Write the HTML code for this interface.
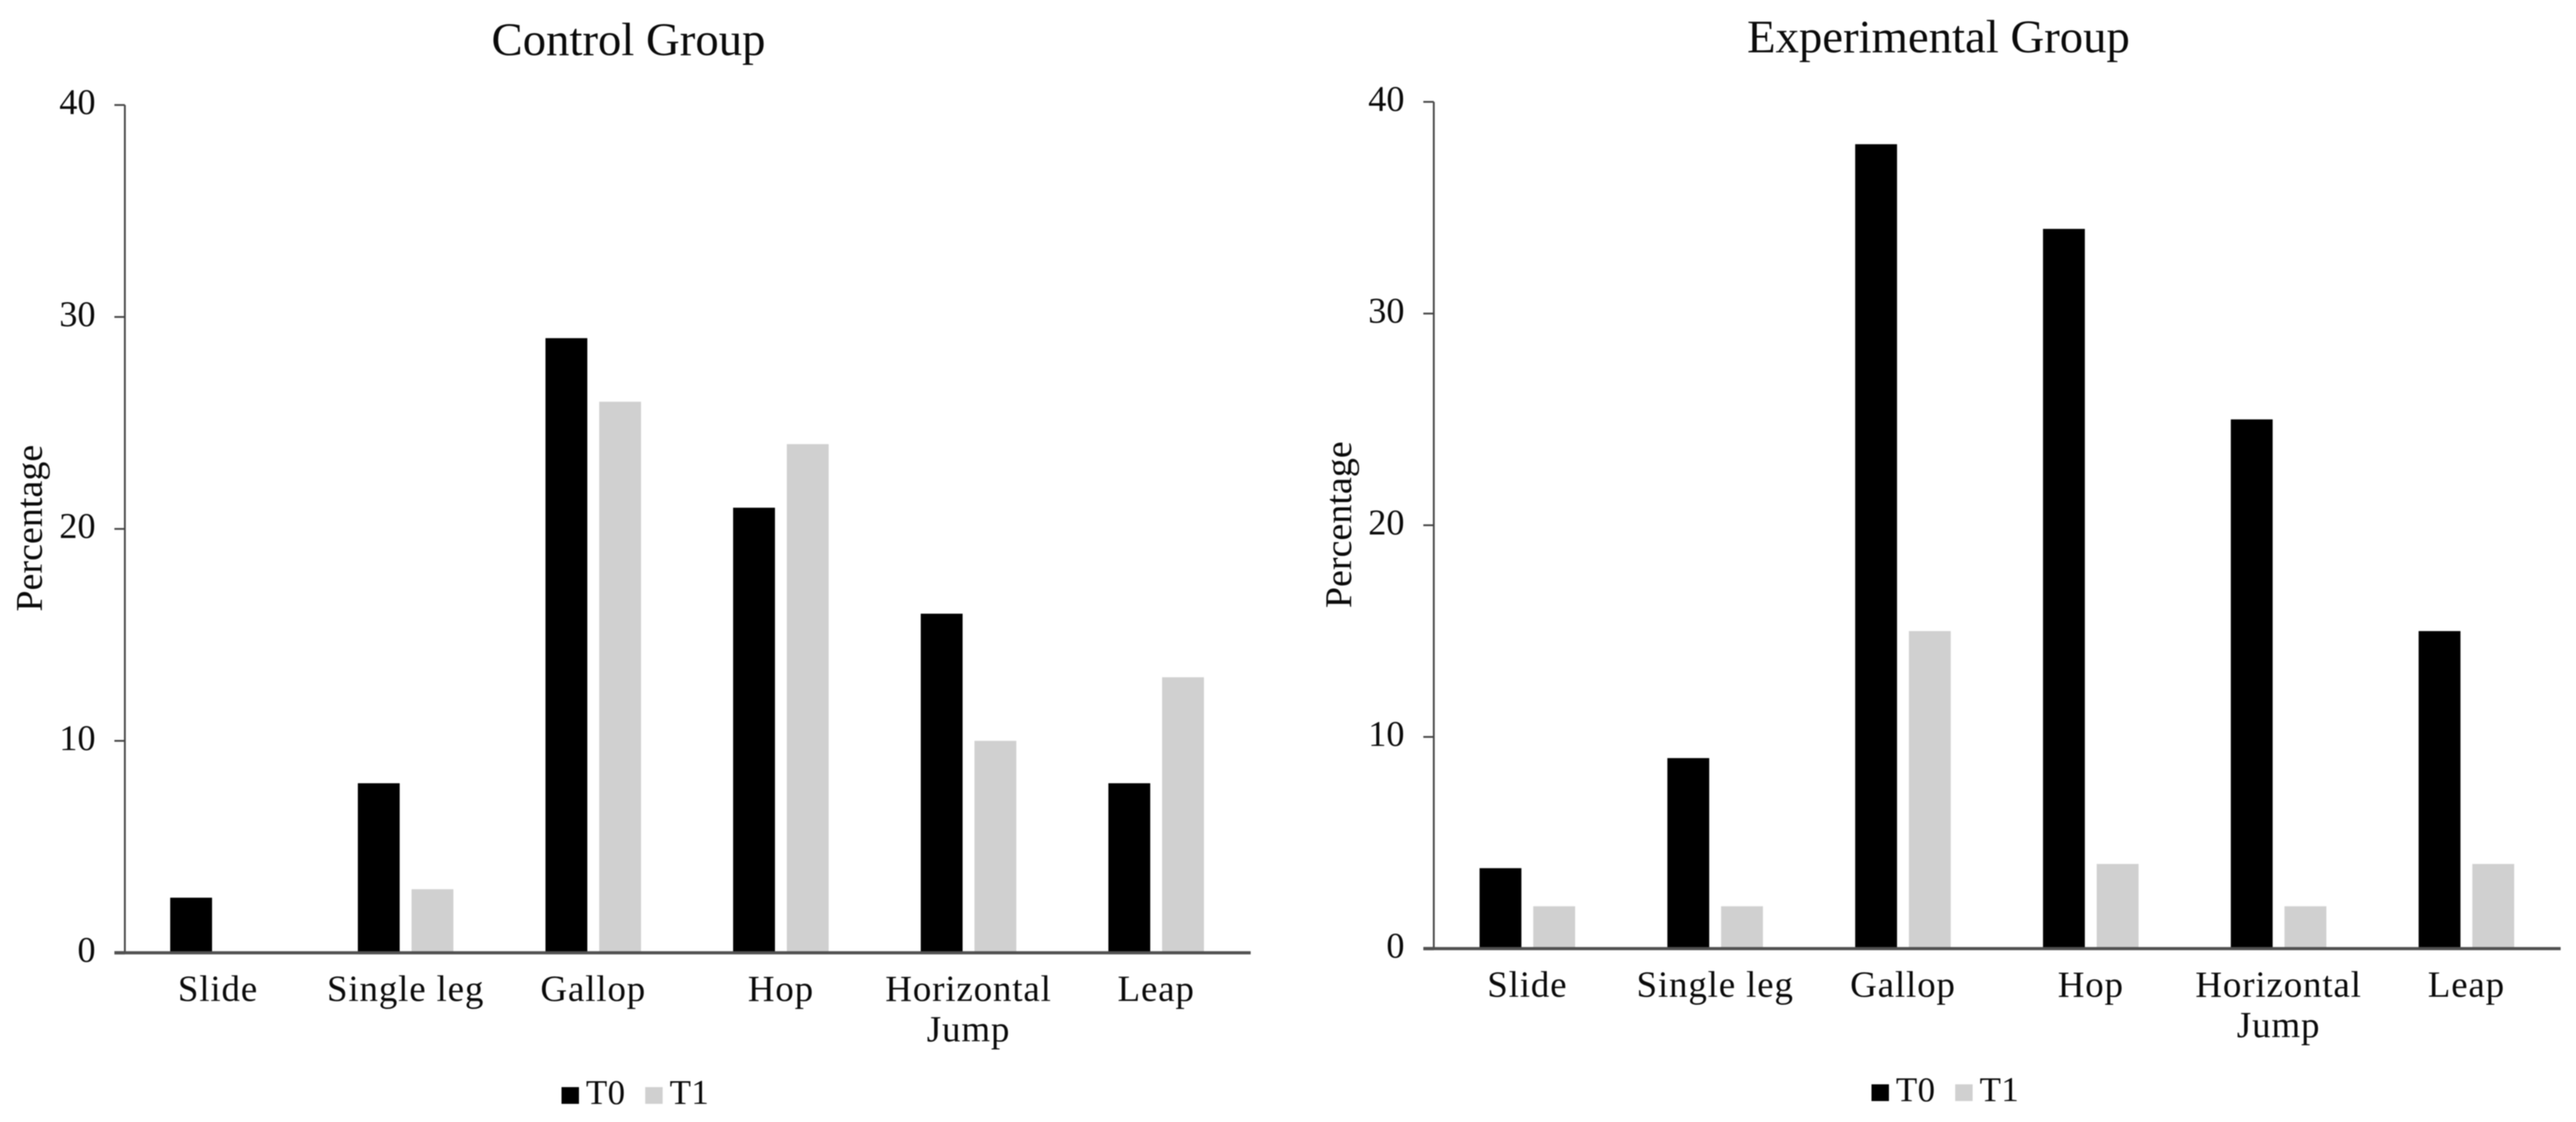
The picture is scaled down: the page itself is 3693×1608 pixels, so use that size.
<!DOCTYPE html>
<html lang="en">
<head>
<meta charset="utf-8">
<title>Control and Experimental Group charts</title>
<style>
html,body{margin:0;padding:0;background:#fff;}
svg{display:block;filter:blur(0.7px);}
text{font-family:"Liberation Serif",serif;fill:#0a0a0a;}
</style>
</head>
<body>
<svg id="figure" xmlns="http://www.w3.org/2000/svg" width="3693" height="1608" viewBox="0 0 3693 1608">
  <rect x="0" y="0" width="3693" height="1608" fill="#fff"/>
  <g id="panel-control"></g>
  <g id="panel-experimental"></g>
</svg>
<script>
const categories = ['Slide', 'Single leg', 'Gallop', 'Hop', 'Horizontal|Jump', 'Leap'];
const yTicks = [0, 10, 20, 30, 40];
const controlT0 = [2.6, 8, 29, 21, 16, 8];
const controlT1 = [0, 3, 26, 24, 10, 13];
const experimentalT0 = [3.8, 9, 38, 34, 25, 15];
const experimentalT1 = [2, 2, 15, 4, 2, 4];
const seriesNames = ['T0', 'T1'];

const SVG_NS = 'http://www.w3.org/2000/svg';
const COLOR_T0 = '#000000';
const COLOR_T1 = '#d0d0d0';
const AXIS_COLOR = '#444444';

function make(tag, attrs, parent, content) {
  const el = document.createElementNS(SVG_NS, tag);
  for (const k in attrs) el.setAttribute(k, attrs[k]);
  if (content !== undefined) el.textContent = content;
  parent.appendChild(el);
  return el;
}

function drawPanel(cfg) {
  const root = document.getElementById(cfg.id);
  const yScale = v => cfg.y0 + (cfg.y40 - cfg.y0) * v / 40;
  const band = (cfg.xRight - cfg.xAxis) / categories.length;
  const center = i => cfg.xAxis + band * (i + 0.5) + cfg.barShift;
  const barW = 60;
  const gap = 17;

  const title = make('text', {x: cfg.titleX, y: cfg.titleY, 'text-anchor': 'middle', 'font-size': 67}, root, cfg.title);
  
  

  const yTitle = make('text', {
    transform: 'translate(' + cfg.yTitleX + ' ' + cfg.yTitleY + ') rotate(-90)',
    'text-anchor': 'middle', 'font-size': 54.5
  }, root, 'Percentage');
  
  

  // bars
  const seriesList = [cfg.t0, cfg.t1];
  seriesList.forEach((values, s) => {
    values.forEach((v, i) => {
      const left = s === 0 ? center(i) - gap / 2 - barW : center(i) + gap / 2;
      const bar = make('rect', {
        x: left,
        y: yScale(v),
        width: barW,
        height: cfg.y0 - yScale(v),
        fill: s === 0 ? COLOR_T0 : COLOR_T1
      }, root);
      
      
    });
  });

  // y axis line
  const yAxis = make('line', {x1: cfg.xAxis, x2: cfg.xAxis, y1: yScale(40), y2: cfg.y0, stroke: AXIS_COLOR, 'stroke-width': 2.6}, root);
  
  

  // y ticks and labels
  yTicks.forEach(t => {
    const tick = make('line', {x1: cfg.xAxis - 15, x2: cfg.xAxis, y1: yScale(t), y2: yScale(t), stroke: AXIS_COLOR, 'stroke-width': t === 0 ? 4.5 : 2.6}, root);
    
    
    const label = make('text', {x: cfg.xAxis - 42, y: yScale(t) + 13, 'text-anchor': 'end', 'font-size': 52}, root, String(t));
    
    
  });

  // x axis line
  const xAxis = make('line', {x1: cfg.xAxis - 15, x2: cfg.xRight, y1: cfg.y0, y2: cfg.y0, stroke: '#505050', 'stroke-width': 4.5}, root);
  
  

  // category labels
  categories.forEach((c, i) => {
    c.split('|').forEach((line, n) => {
      const label = make('text', {
        x: center(i),
        y: cfg.y0 + 69 + n * 58,
        'text-anchor': 'middle',
        'font-size': 53,
        'letter-spacing': 1.2
      }, root, line);
      
      
    });
  });

  // legend
  const legend = make('g', {}, root);
  
  
  seriesNames.forEach((name, s) => {
    const offset = s === 0 ? 0 : 120;
    const swatch = make('rect', {
      x: cfg.legendX + offset,
      y: cfg.legendY - 24,
      width: 25,
      height: 24,
      fill: s === 0 ? COLOR_T0 : COLOR_T1
    }, legend);
    
    
    const label = make('text', {
      x: cfg.legendX + offset + 35,
      y: cfg.legendY,
      'font-size': 50,
      'letter-spacing': 0.6
    }, legend, name);
    
    
  });
}

drawPanel({
  id: 'panel-control', title: 'Control Group', t0: controlT0, t1: controlT1,
  xAxis: 179, xRight: 1793, y0: 1365.5, y40: 150.5, barShift: -1,
  titleX: 901, titleY: 79, yTitleX: 60, yTitleY: 757, legendX: 805, legendY: 1582
});
drawPanel({
  id: 'panel-experimental', title: 'Experimental Group', t0: experimentalT0, t1: experimentalT1,
  xAxis: 2055.5, xRight: 3671, y0: 1359.5, y40: 146, barShift: -0.5,
  titleX: 2779, titleY: 75, yTitleX: 1937, yTitleY: 752, legendX: 2683, legendY: 1578
});
</script>
</body>
</html>
